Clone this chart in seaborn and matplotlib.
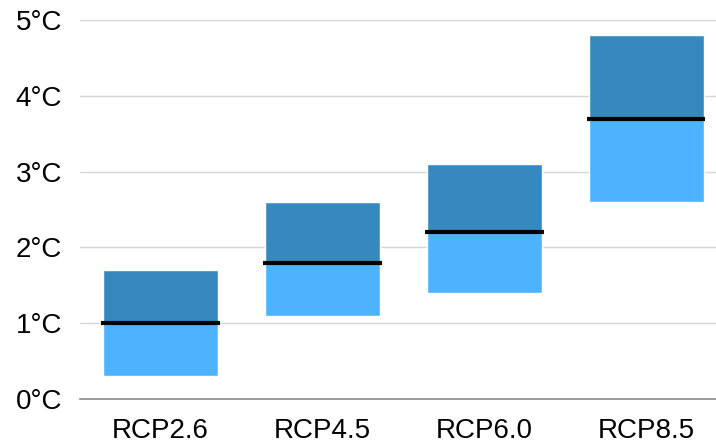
import seaborn as sns
import matplotlib.pyplot as plt
import numpy as np

# Projected warming ranges per scenario
scenarios = ['RCP2.6', 'RCP4.5', 'RCP6.0', 'RCP8.5']
low = np.array([0.3, 1.1, 1.4, 2.6])
median = np.array([1.0, 1.8, 2.2, 3.7])
high = np.array([1.7, 2.6, 3.1, 4.8])
yticks = [0, 1, 2, 3, 4, 5]
ytick_labels = ['0°C', '1°C', '2°C', '3°C', '4°C', '5°C']

sns.set_style("white")
plt.rcParams['font.family'] = ['Liberation Sans', 'DejaVu Sans']

fig = plt.figure(figsize=(7.16, 4.44), dpi=100)
ax = fig.add_axes([80 / 716, 45 / 444, 636 / 716, 379 / 444])

bar_w = 0.71
# lower part: low -> median
sns.barplot(x=scenarios, y=median - low, bottom=low, color='#4DB3FF',
            width=bar_w, saturation=1, ax=ax, zorder=2)
# upper part: median -> high
sns.barplot(x=scenarios, y=high - median, bottom=median, color='#3589BF',
            width=bar_w, saturation=1, ax=ax, zorder=2)

# median markers
pos = np.arange(len(scenarios))
ax.hlines(median, pos - 0.365, pos + 0.365, color='black', lw=3, zorder=3)

ax.set_ylim(0, 5)
ax.set_xlim(-0.497, 3.43)
ax.set_yticks(yticks)
ax.set_yticklabels(ytick_labels)
ax.grid(axis='y', color='#d6d6d6', lw=1, zorder=0)
ax.set_axisbelow(True)
for s in ['top', 'right', 'left']:
    ax.spines[s].set_visible(False)
ax.spines['bottom'].set_color('#8a8a8a')
ax.spines['bottom'].set_linewidth(1.2)
ax.tick_params(axis='both', length=0, labelsize=20, colors='black')
ax.tick_params(axis='y', pad=13)
ax.tick_params(axis='x', pad=14)
ax.set_xlabel('')
ax.set_ylabel('')

plt.savefig('out.png', dpi=100)
